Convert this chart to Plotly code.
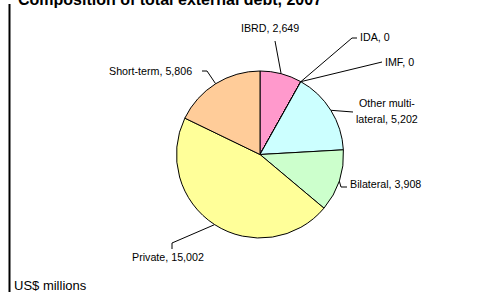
import math
import plotly.graph_objects as go

# ---- data ----
categories = ["IBRD", "IDA", "IMF", "Other multilateral", "Bilateral", "Private", "Short-term"]
values = [2649, 0, 0, 5202, 3908, 15002, 5806]
label_texts = ["IBRD, 2,649", "IDA, 0", "IMF, 0", "Other multi-<br>lateral, 5,202",
               "Bilateral, 3,908", "Private, 15,002", "Short-term, 5,806"]
title_text = "Composition of total external debt, 2007"
unit_text = "US$ millions"

# ---- styles / layout ----
colors = ["#FF99CC", "#9999FF", "#993366", "#CCFFFF", "#CCFFCC", "#FFFF99", "#FFCC99"]
W, H = 497, 292
CX, CY, R = 260, 154.5, 83.5
FONT = "Liberation Sans, Arial, sans-serif"
LBL_SIZE = 10.7

# leader-line elbows and label anchors (pixel space)
label_layout = {
    "IBRD": dict(via=[(275, 41)], pos=(270, 28), anchor="center"),
    "IDA": dict(via=[(352, 38), (357, 38)], pos=(358, 37), anchor="left"),
    "IMF": dict(via=[(379, 62), (382, 62)], pos=(383, 62), anchor="left"),
    "Other multilateral": dict(via=[(353, 112)], pos=(387, 103), anchor="center"),
    "Bilateral": dict(via=[(341, 187), (347, 187)], pos=(348, 184), anchor="left"),
    "Private": dict(via=[(172, 243), (172, 249)], pos=(168, 257), anchor="center"),
    "Short-term": dict(via=[(207, 71), (202, 71)], pos=(194, 71), anchor="right"),
}

fig = go.Figure()

fig.add_trace(go.Pie(
    labels=categories, values=values, sort=False, direction="clockwise", rotation=0,
    textinfo="none", marker=dict(colors=colors, line=dict(color="black", width=1)),
    domain=dict(x=[(CX - R) / W, (CX + R) / W], y=[1 - (CY + R) / H, 1 - (CY - R) / H]),
    showlegend=False, hoverinfo="label+value",
))

total = sum(values)
cum = 0.0
annotations = []
for cat, val, txt in zip(categories, values, label_texts):
    mid = (cum + val / 2) / total * 2 * math.pi
    cum += val
    ex, ey = CX + R * math.sin(mid), CY - R * math.cos(mid)
    lay = label_layout[cat]
    xs = [ex] + [p[0] for p in lay["via"]]
    ys = [ey] + [p[1] for p in lay["via"]]
    fig.add_trace(go.Scatter(x=xs, y=ys, mode="lines", line=dict(color="black", width=1),
                             showlegend=False, hoverinfo="skip"))
    lines = txt.split("<br>")
    for i, ln in enumerate(lines):
        annotations.append(dict(
            x=lay["pos"][0], y=lay["pos"][1] + i * 16, xref="x", yref="y", text=ln,
            showarrow=False, xanchor=lay["anchor"], yanchor="middle",
            font=dict(family=FONT, size=LBL_SIZE, color="black")))

annotations.append(dict(x=16 / W, y=1 + 1 / H, xref="paper", yref="paper",
                        text="<b>" + title_text + "</b>",
                        showarrow=False, xanchor="left", yanchor="middle",
                        font=dict(family=FONT, size=16, color="black")))
annotations.append(dict(x=12, y=285, xref="x", yref="y", text=unit_text,
                        showarrow=False, xanchor="left", yanchor="middle",
                        font=dict(family=FONT, size=13, color="black")))

fig.update_layout(
    width=W, height=H, margin=dict(l=0, r=0, t=0, b=0),
    paper_bgcolor="white", plot_bgcolor="rgba(0,0,0,0)",
    xaxis=dict(range=[0, W], visible=False, fixedrange=True),
    yaxis=dict(range=[H, 0], visible=False, fixedrange=True),
    annotations=annotations,
    shapes=[dict(type="line", xref="x", yref="y", x0=9.5, x1=9.5, y0=4, y1=H,
                 line=dict(color="black", width=2))],
)

fig.write_html("out.html", config={"displayModeBar": False},
               post_script="document.body.style.margin='0';document.body.style.overflow='hidden';")
